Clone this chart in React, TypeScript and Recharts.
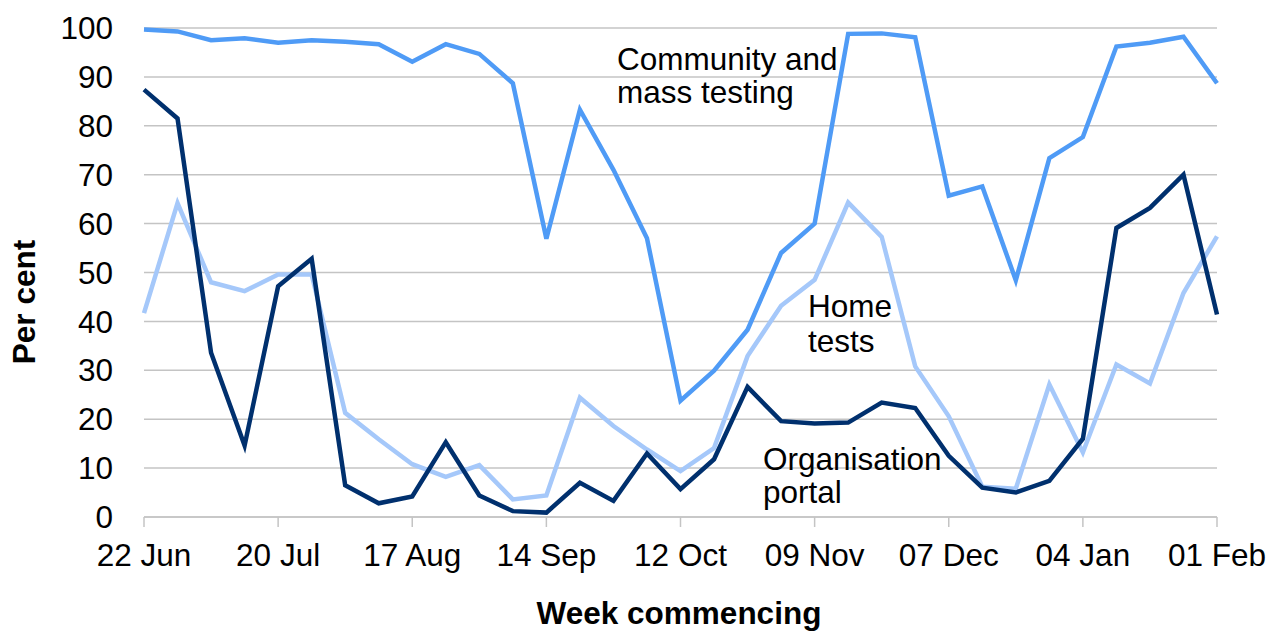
import React from "react";
import { LineChart, Line, XAxis, YAxis, CartesianGrid } from "recharts";

const weeks = [
  "22 Jun", "29 Jun", "06 Jul", "13 Jul", "20 Jul", "27 Jul", "03 Aug", "10 Aug",
  "17 Aug", "24 Aug", "31 Aug", "07 Sep", "14 Sep", "21 Sep", "28 Sep", "05 Oct",
  "12 Oct", "19 Oct", "26 Oct", "02 Nov", "09 Nov", "16 Nov", "23 Nov", "30 Nov",
  "07 Dec", "14 Dec", "21 Dec", "28 Dec", "04 Jan", "11 Jan", "18 Jan", "25 Jan",
  "01 Feb",
];

const community = [
  99.7, 99.3, 97.5, 97.9, 97.0, 97.5, 97.2, 96.7, 93.1, 96.7, 94.7, 88.7, 56.9,
  83.3, 71.0, 57.0, 23.8, 29.9, 38.3, 54.0, 60.0, 98.8, 98.9, 98.1, 65.7, 67.6,
  48.4, 73.4, 77.7, 96.2, 97.0, 98.2, 88.7,
];

const homeTests = [
  41.7, 64.2, 48.0, 46.2, 49.6, 49.6, 21.3, 15.9, 10.8, 8.2, 10.6, 3.6, 4.4,
  24.4, 18.6, 13.8, 9.4, 14.1, 32.9, 43.2, 48.5, 64.3, 57.3, 30.8, 20.6, 6.2,
  5.8, 27.1, 13.2, 31.2, 27.3, 45.8, 57.4,
];

const orgPortal = [
  87.4, 81.5, 33.6, 14.6, 47.2, 52.8, 6.5, 2.8, 4.2, 15.3, 4.4, 1.2, 0.9, 7.0,
  3.3, 13.0, 5.7, 11.8, 26.6, 19.6, 19.1, 19.3, 23.4, 22.3, 12.5, 6.0, 5.0, 7.4,
  16.0, 59.1, 63.2, 70.0, 41.4,
];

const yTicks = [0, 10, 20, 30, 40, 50, 60, 70, 80, 90, 100];

const rows = weeks.map((w, i) => ({
  week: w,
  community: community[i],
  home: homeTests[i],
  org: orgPortal[i],
}));

const FONT = "'Liberation Sans', Arial, sans-serif";
const FS = 31.5;
const GRID = "#C4C4C4";

export default function App() {
  return (
    <div style={{ position: "absolute", left: 0, top: 0, background: "#fff" }}>
      <LineChart
        width={1270}
        height={631}
        data={rows}
        margin={{ top: 28, right: 53, bottom: 54, left: 0 }}
        style={{ fontFamily: FONT }}
      >
        <CartesianGrid vertical={false} stroke={GRID} strokeWidth={1.5} />
        <XAxis
          dataKey="week"
          interval={3}
          height={60}
          tickSize={10}
          tickMargin={17}
          axisLine={{ stroke: GRID, strokeWidth: 1.5 }}
          tickLine={{ stroke: GRID, strokeWidth: 1.5 }}
          tick={{ fill: "#000", fontSize: FS, fontFamily: FONT }}
        />
        <YAxis
          width={144}
          domain={[0, 100]}
          ticks={yTicks}
          axisLine={false}
          tickLine={false}
          tickSize={0}
          tickMargin={31}
          tick={{ fill: "#000", fontSize: FS, fontFamily: FONT }}
        />
        <Line dataKey="community" stroke="#4F9BF6" strokeWidth={4.5} dot={false} isAnimationActive={false} />
        <Line dataKey="home" stroke="#A5C8FA" strokeWidth={4.5} dot={false} isAnimationActive={false} />
        <Line dataKey="org" stroke="#00306E" strokeWidth={4.5} dot={false} isAnimationActive={false} />

        <text x={617} y={70} fontSize={FS} fill="#000" fontFamily={FONT}>Community and</text>
        <text x={617} y={103} fontSize={FS} fill="#000" fontFamily={FONT}>mass testing</text>
        <text x={808} y={317} fontSize={FS} fill="#000" fontFamily={FONT}>Home</text>
        <text x={808} y={352} fontSize={FS} fill="#000" fontFamily={FONT}>tests</text>
        <text x={763} y={470} fontSize={FS} fill="#000" fontFamily={FONT}>Organisation</text>
        <text x={763} y={503} fontSize={FS} fill="#000" fontFamily={FONT}>portal</text>
        <text x={679} y={624} fontSize={FS} fontWeight="bold" textAnchor="middle" fill="#000" fontFamily={FONT}>
          Week commencing
        </text>
        <text
          x={35}
          y={302}
          fontSize={FS}
          fontWeight="bold"
          textAnchor="middle"
          fill="#000"
          fontFamily={FONT}
          transform="rotate(-90 35 302)"
        >
          Per cent
        </text>
      </LineChart>
    </div>
  );
}
